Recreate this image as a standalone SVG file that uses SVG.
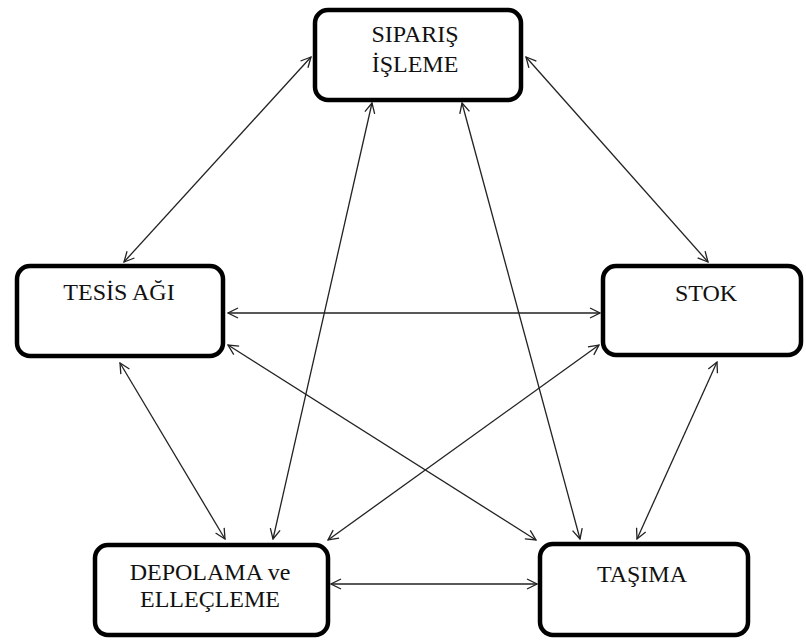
<svg xmlns="http://www.w3.org/2000/svg" width="806" height="643" viewBox="0 0 806 643">
  <style>
    .box { fill: #ffffff; stroke: #000000; stroke-width: 4.5; }
    .lbl { font-family: "Liberation Serif", "Times New Roman", serif; font-size: 24px; fill: #111111; text-anchor: middle; }
    .link { fill: none; stroke: #222222; stroke-width: 1.3; marker-start: url(#tip); marker-end: url(#tip); }
  </style>
  <defs>
    <marker id="tip" viewBox="0 0 12 12" refX="11" refY="6" markerWidth="12" markerHeight="12" markerUnits="userSpaceOnUse" orient="auto-start-reverse">
      <path d="M1,1 L11,6 L1,11" fill="none" stroke="#222222" stroke-width="1.3"/>
    </marker>
  </defs>
  <rect width="806" height="643" fill="#ffffff"/>

  <g id="connectors">
    <line class="link" x1="311" y1="57" x2="124" y2="262"/>
    <line class="link" x1="526" y1="57" x2="708" y2="262"/>
    <line class="link" x1="228" y1="313" x2="600" y2="313"/>
    <line class="link" x1="120" y1="363" x2="225" y2="539"/>
    <line class="link" x1="372" y1="103" x2="273" y2="539"/>
    <line class="link" x1="462" y1="103" x2="580" y2="539"/>
    <line class="link" x1="228" y1="345" x2="536" y2="540"/>
    <line class="link" x1="599" y1="345" x2="328" y2="540"/>
    <line class="link" x1="717" y1="362" x2="637" y2="539"/>
    <line class="link" x1="331" y1="584" x2="537" y2="584"/>
  </g>

  <g id="siparis-isleme">
    <rect class="box" x="315" y="10" width="206" height="90" rx="13"/>
    <text class="lbl" x="415" y="42">SIPARIŞ</text>
    <text class="lbl" x="415" y="72">İŞLEME</text>
  </g>
  <g id="tesis-agi">
    <rect class="box" x="17" y="266" width="206" height="90" rx="13"/>
    <text class="lbl" x="119" y="300">TESİS AĞI</text>
  </g>
  <g id="stok">
    <rect class="box" x="603" y="266" width="198" height="89" rx="13"/>
    <text class="lbl" x="706" y="301">STOK</text>
  </g>
  <g id="depolama-elleclme">
    <rect class="box" x="95" y="545" width="233" height="90" rx="13"/>
    <text class="lbl" x="210" y="580">DEPOLAMA ve</text>
    <text class="lbl" x="210" y="607">ELLEÇLEME</text>
  </g>
  <g id="tasima">
    <rect class="box" x="540" y="544" width="208" height="91" rx="13"/>
    <text class="lbl" x="642" y="582">TAŞIMA</text>
  </g>
</svg>
